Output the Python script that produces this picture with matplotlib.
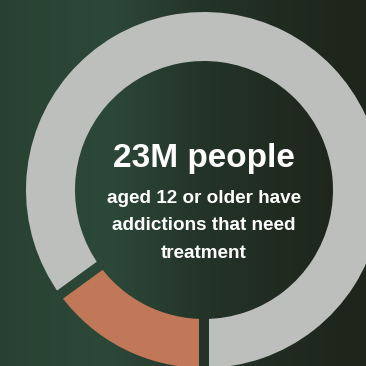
import numpy as np
import matplotlib
matplotlib.use('Agg')
import matplotlib.pyplot as plt
from matplotlib.patches import Polygon

# data
labels = ['receive treatment', 'do not receive treatment']
shares = [15, 85]
colors = ['#c07858', '#bcbfbc']
headline = '23M people'
subtext = 'aged 12 or older have\naddictions that need\ntreatment'

W = 366
cx, cy = 204, 176      # donut centre (px, y up)
r_out, r_in = 178, 129
gap = 10

# background gradient, left green to dark olive on the right
stops_x = [0.0, 0.08, 0.3, 0.55, 0.8, 1.0]
stops_c = np.array([[40, 64, 50], [42, 68, 52], [44, 72, 56],
                    [36, 52, 40], [32, 42, 31], [30, 37, 27]]) / 255
xs = np.linspace(0, 1, 400)
grad = np.stack([np.interp(xs, stops_x, stops_c[:, k]) for k in range(3)], axis=-1)
grad = grad[np.newaxis, :, :]

fig = plt.figure(figsize=(3.66, 3.66), dpi=100)
ax = fig.add_axes([0, 0, 1, 1])
ax.imshow(grad, extent=[0, W, 0, W], aspect='auto', zorder=0)

ax.pie(shares, colors=colors, startangle=270, counterclock=False,
       radius=r_out, center=(cx, cy), frame=True,
       wedgeprops=dict(width=r_out - r_in, edgecolor='none', zorder=1))

# cut straight gaps between slices (show background again)
fr = np.cumsum([0] + shares[:-1]) / sum(shares)
for f in fr:
    th = np.deg2rad(270 - f * 360)
    d = np.array([np.cos(th), np.sin(th)])
    n = np.array([-d[1], d[0]])
    p0 = np.array([cx, cy]) + d * (r_in - 5)
    p1 = np.array([cx, cy]) + d * (r_out + 5)
    poly = Polygon([p0 + n * gap / 2, p1 + n * gap / 2, p1 - n * gap / 2, p0 - n * gap / 2],
                   closed=True, facecolor='none', edgecolor='none', transform=ax.transData)
    ax.add_patch(poly)
    im = ax.imshow(grad, extent=[0, W, 0, W], aspect='auto', zorder=2)
    im.set_clip_path(poly)

ax.text(cx, W - 167, headline, ha='center', va='baseline', color='white',
        fontsize=24, fontweight='bold', family='Liberation Sans', zorder=3)
ax.text(cx, W - 226, subtext, ha='center', va='center', color='white',
        fontsize=13.6, fontweight='bold', family='Liberation Sans',
        linespacing=1.78, zorder=3)

ax.set_xlim(0, W)
ax.set_ylim(0, W)
ax.set_aspect('auto')
ax.axis('off')
fig.savefig('out.png', dpi=100)
